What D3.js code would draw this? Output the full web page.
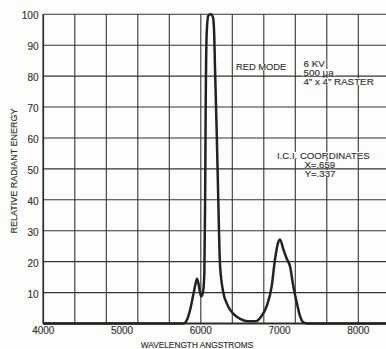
<!DOCTYPE html>
<html><head><meta charset="utf-8">
<script src="https://cdn.jsdelivr.net/npm/d3@7"></script>
<style>
html,body{margin:0;padding:0;background:#fdfdfb;}
svg{display:block;font-family:"Liberation Sans",Arial,Helvetica,sans-serif;}
</style></head>
<body><svg id="c" width="386" height="349"></svg>
<script>
// Data
const wavelengths = [4000, 5780, 5830, 5870, 5910, 5935, 5952, 5970, 5990, 6005, 6025, 6045, 6055, 6062, 6075, 6095, 6126, 6155, 6171, 6180, 6202, 6222, 6244, 6286, 6330, 6371, 6440, 6500, 6600, 6700, 6760, 6837, 6900, 6942, 6980, 7006, 7048, 7090, 7133, 7175, 7218, 7260, 7302, 7350, 8600];
const energy      = [0, 0, 1.5, 5, 10, 13, 14.5, 13, 10, 8.8, 9.8, 16, 40, 70, 94, 99.5, 100, 99, 93, 83, 62, 40, 19, 10, 6.5, 4.5, 2.5, 1.5, 0.7, 0.7, 2, 5.6, 12, 20.7, 26, 27.2, 24, 21, 18.5, 12, 6.8, 2.4, 0.4, 0, 0];
const xTickLabels = [4000, 5000, 6000, 7000, 8000];
const yTickLabels = [10, 20, 30, 40, 50, 60, 70, 80, 90, 100];
const xGrid = d3.range(4000, 8800, 400);
const yGrid = d3.range(10, 101, 10);
const modeLines = ["6 KV", "500 \u03bca", "4\u201d x 4\u201d RASTER"];
const iciLines = ["I.C.I. COORDINATES", "X=.659", "Y=.337"];

const svg = d3.select("#c");
const x = d3.scaleLinear().domain([4000, 8000]).range([43.3, 358.3]);
const y = d3.scaleLinear().domain([0, 100]).range([323.5, 14.3]);
const ink = "#2b2b2b";
const txt = "#333";

// grid
svg.append("g").selectAll("line").data(yGrid).join("line")
  .attr("x1", x(4000)).attr("x2", 400)
  .attr("y1", d => y(d)).attr("y2", d => y(d))
  .attr("stroke", "#333").attr("stroke-width", 1.1);
svg.append("g").selectAll("line").data(xGrid).join("line")
  .attr("x1", d => x(d)).attr("x2", d => x(d))
  .attr("y1", y(100)).attr("y2", y(0))
  .attr("stroke", "#333").attr("stroke-width", 1.1);

// axes lines
svg.append("line").attr("x1", x(4000)).attr("x2", 400).attr("y1", y(0)).attr("y2", y(0))
  .attr("stroke", ink).attr("stroke-width", 2.2);
svg.append("line").attr("x1", x(4000)).attr("x2", x(4000)).attr("y1", y(100)).attr("y2", y(0))
  .attr("stroke", ink).attr("stroke-width", 1.6);

// tick labels
svg.append("g").selectAll("text").data(xTickLabels).join("text")
  .attr("x", d => x(d)).attr("y", 333.5).attr("text-anchor", "middle")
  .attr("font-size", "10px").attr("fill", txt).attr("stroke", txt).attr("stroke-width", 0.15).text(d => d);
svg.append("g").selectAll("text").data(yTickLabels).join("text")
  .attr("x", 38.5).attr("y", d => y(d) + 5).attr("text-anchor", "end")
  .attr("font-size", "10px").attr("fill", txt).attr("stroke", txt).attr("stroke-width", 0.15).text(d => d);

// axis titles
svg.append("text").attr("x", 197).attr("y", 348).attr("text-anchor", "middle")
  .attr("font-size", "8.3px").attr("fill", txt).attr("stroke", txt).attr("stroke-width", 0.15).text("WAVELENGTH ANGSTROMS");
svg.append("text").attr("transform", "translate(16.5,171) rotate(-90)").attr("text-anchor", "middle")
  .attr("font-size", "9px").attr("fill", txt).attr("stroke", txt).attr("stroke-width", 0.15).text("RELATIVE RADIANT ENERGY");

// spectrum curve
const pts = wavelengths.map((w, i) => [w, energy[i]]);
const line = d3.line().x(d => x(d[0])).y(d => y(d[1])).curve(d3.curveMonotoneX);
svg.append("path").attr("d", line(pts)).attr("fill", "none")
  .attr("stroke", "#222").attr("stroke-width", 2.5).attr("stroke-linejoin", "round");

// annotations with white backing
function label(tx, ty, str, anchor, fs) {
  const g = svg.append("g");
  const t = g.append("text").attr("x", tx).attr("y", ty).attr("text-anchor", anchor || "start")
    .attr("font-size", (fs || 9.5) + "px").attr("fill", txt).attr("stroke", txt).attr("stroke-width", 0.15).text(str);
  const b = t.node().getBBox();
  g.insert("rect", "text").attr("x", b.x - 1).attr("y", b.y + 2).attr("width", b.width + 2)
    .attr("height", b.height - 4).attr("fill", "#fdfdfb");
}
label(236, 70, "RED MODE", "start", 9.3);
modeLines.forEach((s, i) => label(303.5, 66.7 + i * 9.2, s, "start", 9.8));
label(323.3, 159, iciLines[0], "middle", 9.6);
label(319.8, 168, iciLines[1], "middle", 9.6);
label(320, 176.8, iciLines[2], "middle", 9.6);
</script></body></html>
